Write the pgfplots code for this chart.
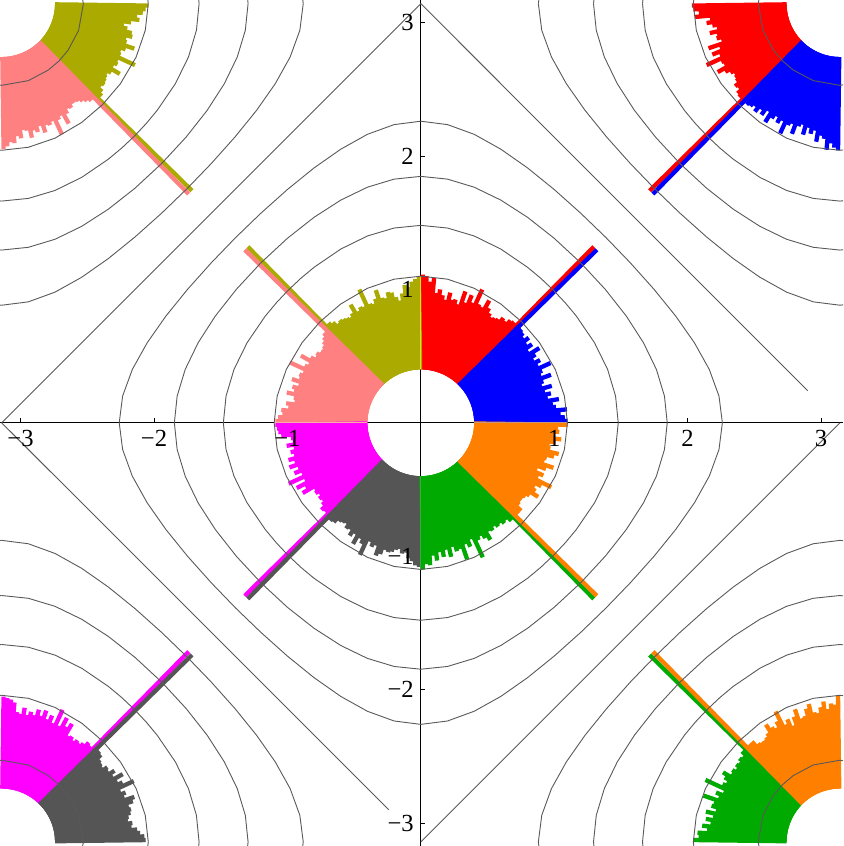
\documentclass[border=0pt]{standalone}
\usepackage{fontspec}
\setmainfont{Liberation Serif}
\usepackage{pgfplots}
\usepackage{pgfplotstable}
\pgfplotsset{compat=1.18}

\definecolor{cred}{RGB}{255,0,0}
\definecolor{cblue}{RGB}{0,0,255}
\definecolor{corange}{RGB}{255,128,0}
\definecolor{cgreen}{RGB}{0,170,0}
\definecolor{cgray}{RGB}{85,85,85}
\definecolor{cmagenta}{RGB}{255,0,255}
\definecolor{cpink}{RGB}{255,128,128}
\definecolor{colive}{RGB}{170,170,0}

% tick labels above the plots, axis lines below them
\pgfplotsset{
  layers/labelsontop/.define layer set={
    axis background,axis grid,axis ticks,axis lines,pre main,main,
    axis tick labels,axis descriptions,axis foreground
  }{
    grid style={/pgfplots/on layer=axis grid},
    tick style={/pgfplots/on layer=axis ticks},
    axis line style={/pgfplots/on layer=axis lines},
    label style={/pgfplots/on layer=axis descriptions},
    ticklabel style={/pgfplots/on layer=axis tick labels},
  },
}

% level curves cos x + cos y = c, first quadrant (c = 4/11, 8/11, 12/11, 16/11, 20/11)
\pgfplotstableread{
x y
0 2.2604
0.2 2.2350
0.4 2.1622
0.6 2.0507
0.8 1.9104
1.0 1.7484
1.2 1.5696
1.3881 1.3881
1.5696 1.2
1.7484 1.0
1.9104 0.8
2.0507 0.6
2.1622 0.4
2.2350 0.2
2.2604 0
}\cA
\pgfplotstableread{
x y
0 1.8470
0.2 1.8263
0.4 1.7659
0.6 1.6690
0.8 1.5402
1.0 1.3827
1.1987 1.1987
1.3827 1.0
1.5402 0.8
1.6690 0.6
1.7659 0.4
1.8263 0.2
1.8470 0
}\cB
\pgfplotstableread{
x y
0 1.4798
0.2 1.4598
0.4 1.4002
0.6 1.3020
0.8 1.1656
0.9 1.0823
0.9938 0.9938
1.0823 0.9
1.1656 0.8
1.3020 0.6
1.4002 0.4
1.4598 0.2
1.4798 0
}\cC
\pgfplotstableread{
x y
0 1.0990
0.2 1.0765
0.4 1.0082
0.6 0.8903
0.7564 0.7564
0.8903 0.6
1.0082 0.4
1.0765 0.2
1.0990 0
}\cD
\pgfplotstableread{
x y
0 0.6125
0.2 0.5770
0.35 0.4974
0.4297 0.4297
0.4974 0.35
0.5770 0.2
0.6125 0
}\cE

% rose bars: angle (deg), outer radius; bars start at r = 0.4
\pgfplotstableread{
a r
0.75 1.10
2.25 1.08
3.75 1.05
5.25 1.10
6.75 1.02
8.25 1.00
9.75 1.05
11.25 0.97
12.75 1.00
14.25 0.96
15.75 1.02
17.25 0.95
18.75 0.97
20.25 1.04
21.75 0.97
23.25 0.99
24.75 1.07
26.25 0.98
27.75 1.01
29.25 0.97
30.75 1.00
32.25 1.05
33.75 0.97
35.25 1.02
36.75 0.99
38.25 1.03
39.75 1.00
41.25 1.02
42.75 1.03
}\tBlue
\pgfplotstableread{
a r
47.25 1.03
48.75 1.02
50.25 0.99
51.75 1.00
53.25 0.97
54.75 0.96
56.25 0.95
57.75 0.97
59.25 1.00
60.75 1.05
62.25 0.98
63.75 0.99
65.25 1.10
66.75 0.98
68.25 1.03
69.75 0.96
71.25 1.04
72.75 0.93
74.25 0.96
75.75 0.95
77.25 1.00
78.75 0.94
80.25 0.97
81.75 1.01
83.25 0.98
84.75 1.09
86.25 1.06
87.75 1.10
89.25 1.11
}\tRed
\pgfplotstableread{
a r
90.75 1.10
92.25 1.08
93.75 1.06
95.25 1.02
96.75 1.04
98.25 0.98
99.75 0.93
101.25 0.96
102.75 1.00
104.25 1.01
105.75 0.97
107.25 0.98
108.75 1.05
110.25 0.99
111.75 0.96
113.25 0.97
114.75 1.10
116.25 0.97
117.75 0.98
119.25 0.96
120.75 1.03
122.25 0.97
123.75 0.95
125.25 0.96
126.75 0.97
128.25 0.98
129.75 0.97
131.25 1.00
132.75 1.02
}\tOlive
\pgfplotstableread{
a r
137.25 0.99
138.75 0.97
140.25 0.95
141.75 0.93
143.25 0.92
144.75 0.92
146.25 0.94
147.75 0.93
149.25 0.96
150.75 1.03
152.25 0.95
153.75 0.97
155.25 1.08
156.75 0.96
158.25 0.98
159.75 0.97
161.25 1.02
162.75 0.96
164.25 1.00
165.75 0.98
167.25 1.03
168.75 0.97
170.25 0.96
171.75 1.02
173.25 1.00
174.75 1.05
176.25 1.04
177.75 1.07
179.25 1.09
}\tPink
\pgfplotstableread{
a r
180.75 1.09
182.25 1.08
183.75 1.07
185.25 1.05
186.75 0.98
188.25 0.97
189.75 1.02
191.25 0.97
192.75 1.00
194.25 0.98
195.75 1.03
197.25 0.99
198.75 1.04
200.25 0.98
201.75 1.02
203.25 0.97
204.75 1.09
206.25 0.97
207.75 1.05
209.25 0.99
210.75 1.03
212.25 0.94
213.75 0.95
215.25 0.93
216.75 0.95
218.25 0.94
219.75 0.96
221.25 0.99
222.75 0.98
}\tMagenta
\pgfplotstableread{
a r
227.25 1.00
228.75 0.99
230.25 0.96
231.75 0.95
233.25 0.94
234.75 0.97
236.25 0.96
237.75 1.00
239.25 0.97
240.75 1.04
242.25 0.98
243.75 1.01
245.25 1.09
246.75 0.97
248.25 1.00
249.75 0.98
251.25 1.05
252.75 1.03
254.25 0.99
255.75 1.00
257.25 0.99
258.75 0.97
260.25 0.96
261.75 0.99
263.25 0.98
264.75 1.02
266.25 1.04
267.75 1.07
269.25 1.08
}\tGray
\pgfplotstableread{
a r
270.75 1.10
272.25 1.06
273.75 1.07
275.25 1.00
276.75 1.04
278.25 0.98
279.75 1.02
281.25 0.97
282.75 1.03
284.25 0.96
285.75 1.00
287.25 0.99
288.75 1.08
290.25 0.97
291.75 1.00
293.25 0.95
294.75 1.11
296.25 0.98
297.75 0.96
299.25 0.99
300.75 1.02
302.25 0.96
303.75 0.97
305.25 0.95
306.75 0.97
308.25 0.96
309.75 0.98
311.25 0.97
312.75 1.00
}\tGreen
\pgfplotstableread{
a r
317.25 1.00
318.75 1.00
320.25 0.96
321.75 0.95
323.25 0.95
324.75 0.96
326.25 0.98
327.75 1.04
329.25 1.00
330.75 0.98
332.25 1.02
333.75 1.09
335.25 0.97
336.75 1.00
338.25 0.94
339.75 1.00
341.25 1.05
342.75 0.97
344.25 0.98
345.75 1.03
347.25 1.06
348.75 0.99
350.25 0.98
351.75 1.02
353.25 1.06
354.75 1.00
356.25 1.04
357.75 1.03
359.25 1.10
}\tOrange
% long bars: angle, length at centre, length in the corner copies
% rows: red, blue, olive, pink, magenta, gray, green, orange
\pgfplotstableread{
a r rc
45.5 1.85 2.00
44.5 1.85 2.00
134.5 1.85 2.00
135.5 1.85 2.00
224.5 1.85 2.00
225.5 1.85 2.00
314.5 1.85 2.00
315.5 1.85 2.00
}\tSpk

% centre sector
\newcommand\sect[2]{%
  \addplot[rbar, color=#2,
    quiver={u=(\thisrow{r}-0.4)*cos(\thisrow{a}), v=(\thisrow{r}-0.4)*sin(\thisrow{a})}]
    table[x expr=0.4*cos(\thisrow{a}), y expr=0.4*sin(\thisrow{a})] {#1};}
\newcommand\spike[2]{%
  \addplot[rbar, color=#2, restrict expr to domain={\coordindex}{#1:#1},
    quiver={u=(\thisrow{r}-0.4)*cos(\thisrow{a}), v=(\thisrow{r}-0.4)*sin(\thisrow{a})}]
    table[x expr=0.4*cos(\thisrow{a}), y expr=0.4*sin(\thisrow{a})] {\tSpk};}
% mirrored copy in a corner: table, colour, cx, cy, K (angle -> K - angle)
\newcommand\csect[5]{%
  \addplot[rbar, color=#2,
    quiver={u=(\thisrow{r}-0.4)*cos(#5-\thisrow{a}), v=(\thisrow{r}-0.4)*sin(#5-\thisrow{a})}]
    table[x expr=#3+0.4*cos(#5-\thisrow{a}), y expr=#4+0.4*sin(#5-\thisrow{a})] {#1};}
\newcommand\cspike[5]{%
  \addplot[rbar, color=#2, restrict expr to domain={\coordindex}{#1:#1},
    quiver={u=(\thisrow{rc}-0.4)*cos(#5-\thisrow{a}), v=(\thisrow{rc}-0.4)*sin(#5-\thisrow{a})}]
    table[x expr=#3+0.4*cos(#5-\thisrow{a}), y expr=#4+0.4*sin(#5-\thisrow{a})] {\tSpk};}
% one closed level curve from its quadrant, centred at (#2,#3)
\newcommand\cq[3]{%
  \addplot[ct] table[x expr=#2+\thisrow{x}, y expr=#3+\thisrow{y}] {#1};
  \addplot[ct] table[x expr=#2-\thisrow{x}, y expr=#3+\thisrow{y}] {#1};
  \addplot[ct] table[x expr=#2+\thisrow{x}, y expr=#3-\thisrow{y}] {#1};
  \addplot[ct] table[x expr=#2-\thisrow{x}, y expr=#3-\thisrow{y}] {#1};}
\newcommand\corner[2]{\cq{\cA}{#1}{#2}\cq{\cB}{#1}{#2}\cq{\cC}{#1}{#2}\cq{\cD}{#1}{#2}\cq{\cE}{#1}{#2}}

\begin{document}
\begin{tikzpicture}
\begin{axis}[
  set layers=labelsontop,
  x=66.7pt, y=66.7pt,
  xmin=-3.154, xmax=3.166, ymin=-3.172, ymax=3.169,
  axis lines=middle,
  axis line style={-, black, line width=0.6pt},
  xtick={-3,-2,-1,1,2,3}, ytick={-3,-2,-1,1,2,3},
  xticklabels={−3,−2,−1,1,2,3}, yticklabels={−3,−2,−1,1,2,3},
  minor x tick num=4, minor y tick num=4,
  tick align=inside,
  major tick length=2.2pt, minor tick length=1.4pt,
  tick style={black, line width=0.45pt},
  ticklabel style={font=\fontsize{12.3}{14}\selectfont},
  clip=true,
  rbar/.style={line width=2.15pt, line cap=butt, no markers},
  ct/.style={black!65, line width=0.45pt, no markers},
]
% corner copies
\csect{\tRed}{cred}{3.14159}{3.14159}{270}
\csect{\tBlue}{cblue}{3.14159}{3.14159}{270}
\cspike{0}{cred}{3.14159}{3.14159}{270}
\cspike{1}{cblue}{3.14159}{3.14159}{270}
\csect{\tOlive}{colive}{-3.14159}{3.14159}{90}
\csect{\tPink}{cpink}{-3.14159}{3.14159}{90}
\cspike{2}{colive}{-3.14159}{3.14159}{90}
\cspike{3}{cpink}{-3.14159}{3.14159}{90}
\csect{\tMagenta}{cmagenta}{-3.14159}{-3.14159}{270}
\csect{\tGray}{cgray}{-3.14159}{-3.14159}{270}
\cspike{4}{cmagenta}{-3.14159}{-3.14159}{270}
\cspike{5}{cgray}{-3.14159}{-3.14159}{270}
\csect{\tGreen}{cgreen}{3.14159}{-3.14159}{90}
\csect{\tOrange}{corange}{3.14159}{-3.14159}{90}
\cspike{6}{cgreen}{3.14159}{-3.14159}{90}
\cspike{7}{corange}{3.14159}{-3.14159}{90}
% centre rose
\sect{\tBlue}{cblue}
\sect{\tRed}{cred}
\sect{\tOlive}{colive}
\sect{\tPink}{cpink}
\sect{\tMagenta}{cmagenta}
\sect{\tGray}{cgray}
\sect{\tGreen}{cgreen}
\sect{\tOrange}{corange}
\spike{0}{cred}\spike{1}{cblue}\spike{2}{colive}\spike{3}{cpink}
\spike{4}{cmagenta}\spike{5}{cgray}\spike{6}{cgreen}\spike{7}{corange}
% thin seams along the axes inside the rose
\addplot[no markers, line width=0.6pt, color={rgb,255:red,230;green,220;blue,40}] coordinates {(0,0.4) (0,1.1)};
\addplot[no markers, line width=0.6pt, color={rgb,255:red,200;green,150;blue,120}] coordinates {(0.4,0) (1.1,0)};
\addplot[no markers, line width=0.6pt, color={rgb,255:red,250;green,170;blue,170}] coordinates {(-0.4,0) (-1.1,0)};
\addplot[no markers, line width=0.6pt, color={rgb,255:red,60;green,170;blue,60}] coordinates {(0,-0.4) (0,-1.1)};
% level curves
\cq{\cA}{0}{0}\cq{\cB}{0}{0}\cq{\cC}{0}{0}\cq{\cD}{0}{0}
\corner{3.14159}{3.14159}
\corner{-3.14159}{3.14159}
\corner{-3.14159}{-3.14159}
\corner{3.14159}{-3.14159}
\addplot[ct] coordinates {(-3.1416,0) (0,3.1416)};
\addplot[ct] coordinates {(0,3.1416) (2.90,0.24)};
\addplot[ct] coordinates {(0,-3.1416) (3.1416,0)};
\addplot[ct] coordinates {(-3.1416,0) (-0.24,-2.90)};
\coordinate (bl) at (rel axis cs:0,0);
\coordinate (tr) at (rel axis cs:1,1);
\end{axis}
\pgfresetboundingbox
\useasboundingbox (bl) rectangle (tr);
\end{tikzpicture}
\end{document}
